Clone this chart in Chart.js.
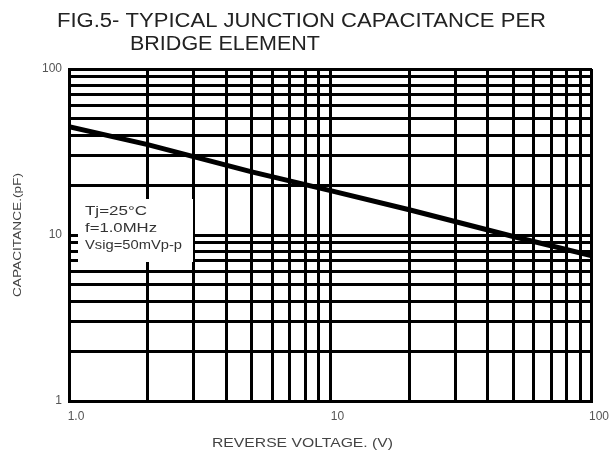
<!DOCTYPE html>
<html>
<head>
<meta charset="utf-8">
<script src="https://cdn.jsdelivr.net/npm/chart.js@4.4.0/dist/chart.umd.min.js"></script>
<style>
  html, body { margin: 0; padding: 0; background: #fff; }
  canvas { display: block; }
</style>
</head>
<body>
<canvas id="capChart" width="610" height="452"></canvas>
<script>
// Data (log-log)
const reverseVoltage = [1, 2, 5, 10, 20, 50, 100];
const capacitance = [45, 35, 24, 18.5, 14.2, 9.8, 7.5];

// Grid positions and labelled ticks
const gridValues = [1, 2, 3, 4, 5, 6, 7, 8, 9, 10, 20, 30, 40, 50, 60, 70, 80, 90, 100];
const xTickLabels = { 1: '1.0', 10: '10', 100: '100' };
const yTickLabels = { 1: '1', 10: '10', 100: '100' };

const titleLines = ['FIG.5- TYPICAL JUNCTION CAPACITANCE PER', 'BRIDGE ELEMENT'];
const xTitle = 'REVERSE VOLTAGE. (V)';
const yTitle = 'CAPACITANCE.(pF)';
const noteLines = ['Tj=25\u00B0C', 'f=1.0MHz', 'Vsig=50mVp-p'];

const FONT = '"Liberation Sans", Arial, sans-serif';

// text in the original is a bit wider than Arial, so stretch it to a given width
function wideText(ctx, text, x, y, size, width) {
    ctx.font = size + 'px ' + FONT;
    const w = ctx.measureText(text).width;
    ctx.save();
    ctx.translate(x, y);
    ctx.scale(width / w, 1);
    ctx.fillText(text, 0, 0);
    ctx.restore();
}

// Draws the figure title, axis titles and the condition box
const textPlugin = {
    id: 'textPlugin',
    afterDatasetsDraw(chart) {
        const ctx = chart.ctx;
        const area = chart.chartArea;
        ctx.save();
        ctx.textBaseline = 'middle';
        ctx.textAlign = 'left';

        // white box with test conditions (covers the grid)
        const bx = area.left + 9, by = area.top + 130;
        ctx.fillStyle = '#fff';
        ctx.fillRect(bx, by, 115, 63);
        ctx.fillStyle = '#333';
        const noteWidths = [62, 72, 97];
        noteLines.forEach((t, i) => wideText(ctx, t, bx + 7, by + 12 + i * 17, 13, noteWidths[i]));

        // figure title
        ctx.fillStyle = '#222';
        wideText(ctx, titleLines[0], 57, 21, 20, 489);
        wideText(ctx, titleLines[1], 130, 44, 20, 190);

        // x-axis title
        ctx.fillStyle = '#444';
        wideText(ctx, xTitle, 212, 443, 13, 181);

        // y-axis title (rotated)
        ctx.save();
        ctx.translate(18, (area.top + area.bottom) / 2);
        ctx.rotate(-Math.PI / 2);
        ctx.textAlign = 'left';
        wideText(ctx, yTitle, -62, 0, 11, 124);
        ctx.restore();

        ctx.restore();
    }
};

const ctx = document.getElementById('capChart').getContext('2d');
const capChart = new Chart(ctx, {
    type: 'line',
    data: {
        datasets: [{
            data: reverseVoltage.map((v, i) => ({ x: v, y: capacitance[i] })),
            borderColor: '#000',
            borderWidth: 5,
            pointRadius: 0,
            tension: 0,
            fill: false
        }]
    },
    options: {
        responsive: false,
        devicePixelRatio: 1,
        animation: false,
        layout: { padding: { top: 69, right: 14, bottom: 0, left: 0 } },
        plugins: {
            legend: { display: false },
            title: { display: false },
            tooltip: { enabled: false }
        },
        scales: {
            x: {
                type: 'logarithmic',
                min: 1,
                max: 100,
                afterBuildTicks: s => { s.ticks = gridValues.map(v => ({ value: v })); },
                afterFit: s => { s.height = 51; },
                grid: { color: '#000', lineWidth: 3, drawTicks: false },
                border: { color: '#000', width: 3 },
                ticks: {
                    autoSkip: false,
                    maxRotation: 0,
                    padding: 8,
                    labelOffset: 7,
                    color: '#555',
                    font: { family: FONT, size: 12 },
                    callback: v => xTickLabels[v] || ''
                }
            },
            y: {
                type: 'logarithmic',
                min: 1,
                max: 100,
                afterBuildTicks: s => { s.ticks = gridValues.map(v => ({ value: v })); },
                afterFit: s => { s.width = 69; },
                grid: { color: '#000', lineWidth: 3, drawTicks: false },
                border: { color: '#000', width: 3 },
                ticks: {
                    autoSkip: false,
                    padding: 7,
                    color: '#555',
                    font: { family: FONT, size: 12 },
                    callback: v => yTickLabels[v] || ''
                }
            }
        }
    },
    plugins: [textPlugin]
});
</script>
</body>
</html>
